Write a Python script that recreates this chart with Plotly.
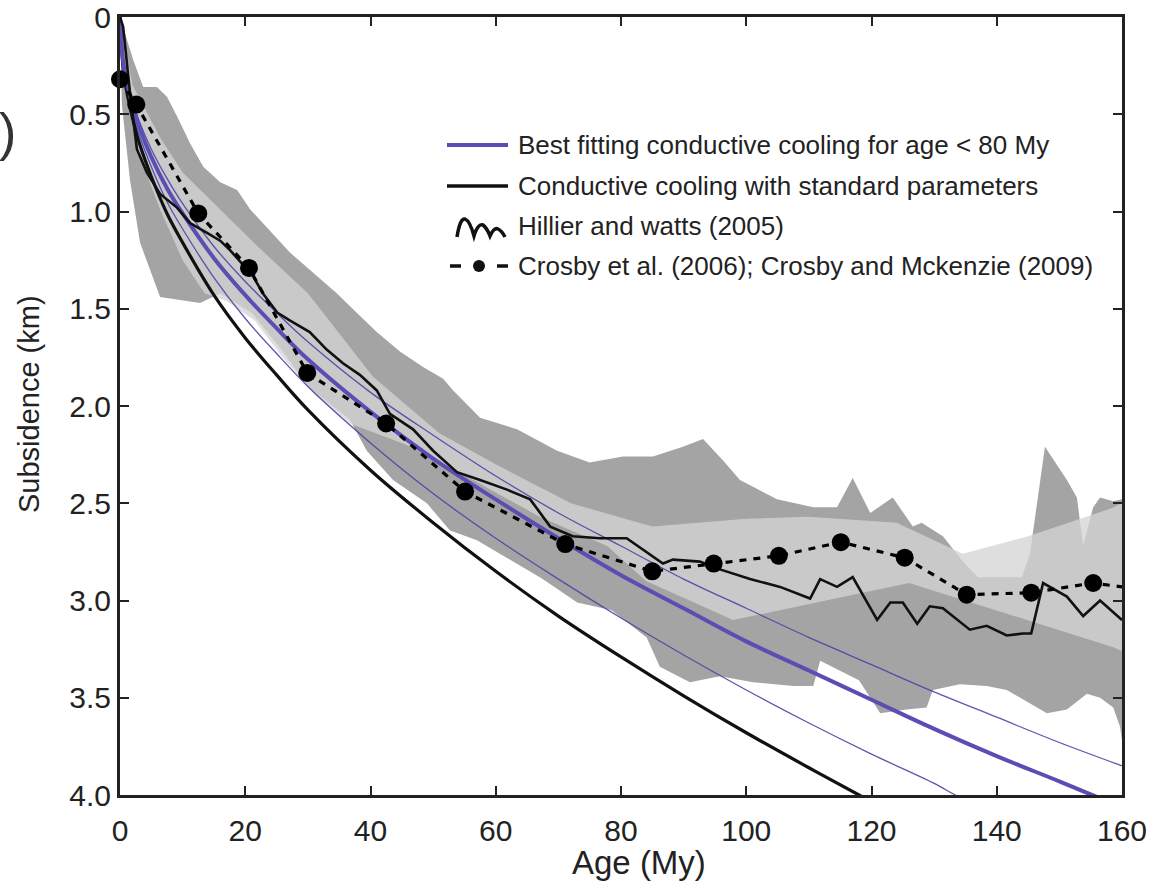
import plotly.graph_objects as go

# ---------------- data ----------------
# Best fitting conductive cooling (< 80 My), thick purple
best_age = [0, 0.5, 1, 2, 3, 5, 7.5, 10, 15, 20, 25, 30, 40, 50, 60, 70, 80, 90, 100, 110, 120, 130, 140, 150, 156, 160]
best_sub = [0, 0.23, 0.32, 0.45, 0.56, 0.72, 0.88, 1.01, 1.24, 1.43, 1.60, 1.76, 2.03, 2.27, 2.48, 2.68, 2.87, 3.04, 3.21, 3.36, 3.51, 3.66, 3.80, 3.93, 4.01, 4.06]

# thin purple uncertainty curves
up_age = [0, 0.5, 1, 2, 3, 5, 7.5, 10, 15, 20, 25, 30, 40, 50, 60, 70, 80, 90, 100, 110, 120, 130, 140, 150, 160]
up_sub = [0, 0.22, 0.30, 0.43, 0.53, 0.68, 0.83, 0.96, 1.18, 1.36, 1.52, 1.67, 1.93, 2.15, 2.36, 2.55, 2.72, 2.89, 3.04, 3.19, 3.33, 3.47, 3.60, 3.73, 3.85]
lo_age = [0, 0.5, 1, 2, 3, 5, 7.5, 10, 15, 20, 25, 30, 40, 50, 60, 70, 80, 90, 100, 110, 120, 130, 134, 138]
lo_sub = [0, 0.24, 0.35, 0.49, 0.60, 0.77, 0.95, 1.09, 1.34, 1.55, 1.73, 1.90, 2.19, 2.45, 2.68, 2.89, 3.09, 3.28, 3.46, 3.63, 3.79, 3.94, 4.01, 4.06]

# conductive cooling with standard parameters (black)
std_age = [0, 0.5, 1, 2, 3, 5, 7.5, 10, 15, 20, 25, 30, 40, 50, 60, 70, 80, 90, 100, 110, 118, 122]
std_sub = [0, 0.26, 0.37, 0.52, 0.64, 0.82, 1.01, 1.16, 1.43, 1.65, 1.84, 2.02, 2.33, 2.60, 2.85, 3.08, 3.29, 3.49, 3.68, 3.86, 4.00, 4.07]

# Hillier and Watts (2005)
hw_age = [0, 0.5, 1.6, 2.7, 4.3, 6.4, 9.1, 11.2, 13.9, 16, 17.6, 19.6, 21.2, 22.8, 25.1, 27.1, 30.3, 33, 35.6, 38.3,
          41, 43.1, 46.8, 50, 53.8, 57.5, 61.8, 65.5, 68.7, 72.3, 76.6, 80.9, 83.5, 86.7, 88.3, 92.6, 95.8, 100.6,
          105.4, 110.2, 111.8, 114.5, 117, 120.9, 123, 125, 127.3, 129.3, 131.4, 135.7, 138.4, 141.6, 144.2,
          145.5, 147.4, 151.2, 153.8, 156.5, 158.6, 160]
hw_sub = [0, 0.05, 0.39, 0.68, 0.80, 0.91, 0.98, 1.06, 1.11, 1.15, 1.20, 1.27, 1.33, 1.42, 1.52, 1.56, 1.62, 1.71, 1.78, 1.84,
          1.92, 2.04, 2.12, 2.23, 2.34, 2.38, 2.43, 2.48, 2.62, 2.67, 2.68, 2.68, 2.74, 2.81, 2.79, 2.80, 2.84, 2.89,
          2.93, 2.99, 2.89, 2.93, 2.88, 3.10, 3.01, 3.01, 3.12, 3.03, 3.04, 3.15, 3.13, 3.18, 3.17,
          3.17, 2.91, 2.98, 3.08, 3.00, 3.06, 3.10]

# Crosby et al. (2006); Crosby and Mckenzie (2009)
cr_age = [0, 2.6, 12.5, 20.6, 29.9, 42.5, 55.1, 71.1, 85, 94.8, 105.2, 115.1, 125.3, 135.2, 145.5, 155.4, 160]
cr_sub = [0.32, 0.45, 1.01, 1.29, 1.83, 2.09, 2.44, 2.71, 2.85, 2.81, 2.77, 2.70, 2.78, 2.97, 2.96, 2.91, 2.93]
cr_dot = [1] * 16 + [0]

# dark grey envelope (upper / lower edges)
dk_up_age = [0, 1, 2.1, 3.7, 5.9, 7.5, 9.1, 11.2, 13.3, 16, 18.7, 20.8, 24, 27.1, 30.3, 34.6, 37.8, 41, 44.7, 48.4,
             51.6, 53.2, 57.5, 63.4, 69.8, 75, 80.3, 85.1, 89.9, 93.1, 96.3, 99, 104.9, 110.7, 114.5, 117, 119.8,
             123.4, 126.6, 128, 131.4, 134.6, 137, 144, 145.3, 147.7, 151.2, 152.8, 153.8, 155.4, 156.5, 158.6, 160]
dk_up_sub = [0, 0.1, 0.22, 0.36, 0.36, 0.41, 0.51, 0.65, 0.77, 0.85, 0.89, 0.99, 1.10, 1.21, 1.30, 1.42, 1.52, 1.62, 1.72, 1.80,
             1.86, 1.92, 2.06, 2.12, 2.23, 2.29, 2.26, 2.26, 2.21, 2.17, 2.28, 2.38, 2.48, 2.52, 2.52, 2.37, 2.55,
             2.47, 2.62, 2.60, 2.67, 2.80, 2.88, 2.88, 2.76, 2.21, 2.38, 2.47, 2.72, 2.52, 2.47, 2.49, 2.48]
dk_lo_age = [0, 0.3, 0.8, 1.6, 3.2, 6.4, 12.8, 16, 21, 26, 30, 36.7, 39.4, 43.6, 49, 52.7, 57, 62.3, 67.5, 73,
             78.5, 84.1, 86.2, 91, 95.8, 101.1, 107.5, 110.7, 111.8, 118, 121.4, 125.6, 128.8, 129.8, 134.1, 138.4,
             141.6, 148, 151.2, 154.4, 156.5, 158.6, 159.7, 160]
dk_lo_sub = [0, 0.45, 0.62, 0.84, 1.16, 1.44, 1.47, 1.42, 1.52, 1.72, 1.90, 2.07, 2.23, 2.38, 2.50, 2.64, 2.69, 2.79, 2.89, 3.01,
             3.05, 3.19, 3.34, 3.42, 3.39, 3.42, 3.44, 3.44, 3.31, 3.41, 3.58, 3.56, 3.55, 3.46, 3.43, 3.44,
             3.46, 3.58, 3.56, 3.48, 3.50, 3.55, 3.65, 3.72]

# light grey band (upper / lower edges)
lt_up_age = [0, 2, 6.4, 10, 16, 22, 30, 40.4, 51, 60, 72, 85, 100, 110, 124, 134.6, 145, 158, 160]
lt_up_sub = [0, 0.35, 0.62, 0.80, 0.99, 1.18, 1.42, 1.85, 2.14, 2.30, 2.50, 2.62, 2.58, 2.57, 2.60, 2.76, 2.67, 2.53, 2.50]
lt_lo_age = [0, 1, 3, 6.4, 10, 13.5, 17, 21.5, 26, 31, 36.7, 45.8, 56.4, 67, 77.8, 84, 97.9, 126, 158.6, 160]
lt_lo_sub = [0, 0.40, 0.70, 0.99, 1.25, 1.42, 1.46, 1.56, 1.75, 1.94, 2.09, 2.20, 2.38, 2.57, 2.72, 2.90, 3.10, 2.91, 3.24, 3.26]

x_ticks = [0, 20, 40, 60, 80, 100, 120, 140, 160]
y_ticks = [0, 0.5, 1.0, 1.5, 2.0, 2.5, 3.0, 3.5, 4.0]
y_tick_text = ["0", "0.5", "1.0", "1.5", "2.0", "2.5", "3.0", "3.5", "4.0"]

legend_labels = ["Best fitting conductive cooling for age < 80 My",
                 "Conductive cooling with standard parameters",
                 "Hillier and watts (2005)",
                 "Crosby et al. (2006); Crosby and Mckenzie (2009)"]

# ---------------- styling ----------------
PURPLE = "#5a4db3"
THIN = "rgba(70,70,165,0.9)"
DARK_FILL = "#a4a4a4"
LIGHT_FILL = "rgba(212,212,212,0.77)"
FONT = "Liberation Sans, Arial, Helvetica, sans-serif"
TXT = "#222222"

W, H = 1170, 881
L, R, T, B = 120, 48, 17, 86
PW, PH = W - L - R, H - T - B


def pp(px, py):
    return (px - L) / PW, 1 - (py - T) / PH


fig = go.Figure()

fig.add_trace(go.Scatter(x=dk_up_age + dk_lo_age[::-1], y=dk_up_sub + dk_lo_sub[::-1],
                         fill="toself", fillcolor=DARK_FILL, line=dict(width=0), mode="lines",
                         hoverinfo="skip", showlegend=False))
fig.add_trace(go.Scatter(x=lt_up_age + lt_lo_age[::-1], y=lt_up_sub + lt_lo_sub[::-1],
                         fill="toself", fillcolor=LIGHT_FILL, line=dict(width=0), mode="lines",
                         hoverinfo="skip", showlegend=False))

fig.add_trace(go.Scatter(x=up_age, y=up_sub, mode="lines", line=dict(color=THIN, width=1.3),
                         line_shape="spline", showlegend=False))
fig.add_trace(go.Scatter(x=lo_age, y=lo_sub, mode="lines", line=dict(color=THIN, width=1.3),
                         line_shape="spline", showlegend=False))
fig.add_trace(go.Scatter(x=std_age, y=std_sub, mode="lines", line=dict(color="#111111", width=3.2),
                         line_shape="spline", showlegend=False))
fig.add_trace(go.Scatter(x=best_age, y=best_sub, mode="lines", line=dict(color=PURPLE, width=4),
                         line_shape="spline", showlegend=False))
fig.add_trace(go.Scatter(x=hw_age, y=hw_sub, mode="lines", line=dict(color="#111111", width=2.6),
                         showlegend=False))
fig.add_trace(go.Scatter(x=cr_age, y=cr_sub, mode="lines+markers",
                         line=dict(color="#000000", width=3.2, dash="7px,7px"),
                         marker=dict(color="#000000", size=[18 * d for d in cr_dot], opacity=1,
                                     line=dict(width=0)),
                         cliponaxis=False, showlegend=False))

# ---------------- manual legend ----------------
shapes = []
annos = []
rows = [145, 186, 226, 266]
for i, (lab, ry) in enumerate(zip(legend_labels, rows)):
    tx, ty = pp(516, ry)
    annos.append(dict(x=tx, y=ty, xref="paper", yref="paper", text=lab, showarrow=False,
                      xanchor="left", yanchor="middle", font=dict(family=FONT, size=26, color=TXT)))

x0, y0 = pp(447, 145); x1, _ = pp(508, 145)
shapes.append(dict(type="line", xref="paper", yref="paper", x0=x0, x1=x1, y0=y0, y1=y0,
                   line=dict(color=PURPLE, width=4)))
x0, y0 = pp(447, 186); x1, _ = pp(508, 186)
shapes.append(dict(type="line", xref="paper", yref="paper", x0=x0, x1=x1, y0=y0, y1=y0,
                   line=dict(color="#111111", width=3.5)))
# wiggle glyph (rounded humps of decreasing height)
wig_pts = [("M", 457, 237), ("Q", 460, 218), (None, 465, 219), ("Q", 470, 221), (None, 474, 236),
           ("Q", 478, 223), (None, 483, 225), ("Q", 487, 228), (None, 490, 236),
           ("Q", 494, 227), (None, 498, 229), ("Q", 502, 231), (None, 505, 237)]
path = ""
for cmd, a, b in wig_pts:
    xa, yb = pp(a, b)
    path += ("%s %.5f,%.5f " % (cmd, xa, yb)) if cmd else ("%.5f,%.5f " % (xa, yb))
shapes.append(dict(type="path", xref="paper", yref="paper", path=path.strip(),
                   line=dict(color="#111111", width=3.5)))
# dash - dot - dash
for a, b in [(450, 461), (497, 508)]:
    x0, y0 = pp(a, 266); x1, _ = pp(b, 266)
    shapes.append(dict(type="line", xref="paper", yref="paper", x0=x0, x1=x1, y0=y0, y1=y0,
                       line=dict(color="#111111", width=3.5)))
cx0, cy0 = pp(473, 260); cx1, cy1 = pp(485, 272)
shapes.append(dict(type="circle", xref="paper", yref="paper", x0=cx0, y0=cy0, x1=cx1, y1=cy1,
                   fillcolor="#111111", line=dict(width=0)))

# axis titles and stray label fragment
ax, ay = pp(639, 862)
annos.append(dict(x=ax, y=ay, xref="paper", yref="paper", text="Age (My)", showarrow=False,
                  xanchor="center", yanchor="middle", font=dict(family=FONT, size=33, color=TXT)))
ax, ay = pp(29, 404)
annos.append(dict(x=ax, y=ay, xref="paper", yref="paper", text="Subsidence (km)", showarrow=False,
                  textangle=-90, xanchor="center", yanchor="middle", font=dict(family=FONT, size=29, color=TXT)))
ax, ay = pp(7, 132)
annos.append(dict(x=ax, y=ay, xref="paper", yref="paper", text=")", showarrow=False,
                  xanchor="center", yanchor="middle", font=dict(family=FONT, size=52, color="#333333")))

fig.update_layout(
    width=W, height=H, margin=dict(l=L, r=R, t=T, b=B, autoexpand=False),
    plot_bgcolor="white", paper_bgcolor="white",
    shapes=shapes, annotations=annos, showlegend=False,
    xaxis=dict(range=[0, 160], tickvals=x_ticks, ticks="inside", ticklen=9, tickwidth=2,
               tickcolor="#222", showline=True, linewidth=3, linecolor="#222", mirror="ticks",
               showgrid=False, zeroline=False, automargin=False, ticklabelstandoff=7,
               tickfont=dict(family=FONT, size=30, color=TXT)),
    yaxis=dict(range=[4, 0], tickvals=y_ticks, ticktext=y_tick_text, ticks="inside", ticklen=9,
               tickwidth=2, tickcolor="#222", showline=True, linewidth=3, linecolor="#222",
               mirror="ticks", showgrid=False, zeroline=False, automargin=False,
               tickfont=dict(family=FONT, size=30, color=TXT)),
)

fig.write_html("out.html")
